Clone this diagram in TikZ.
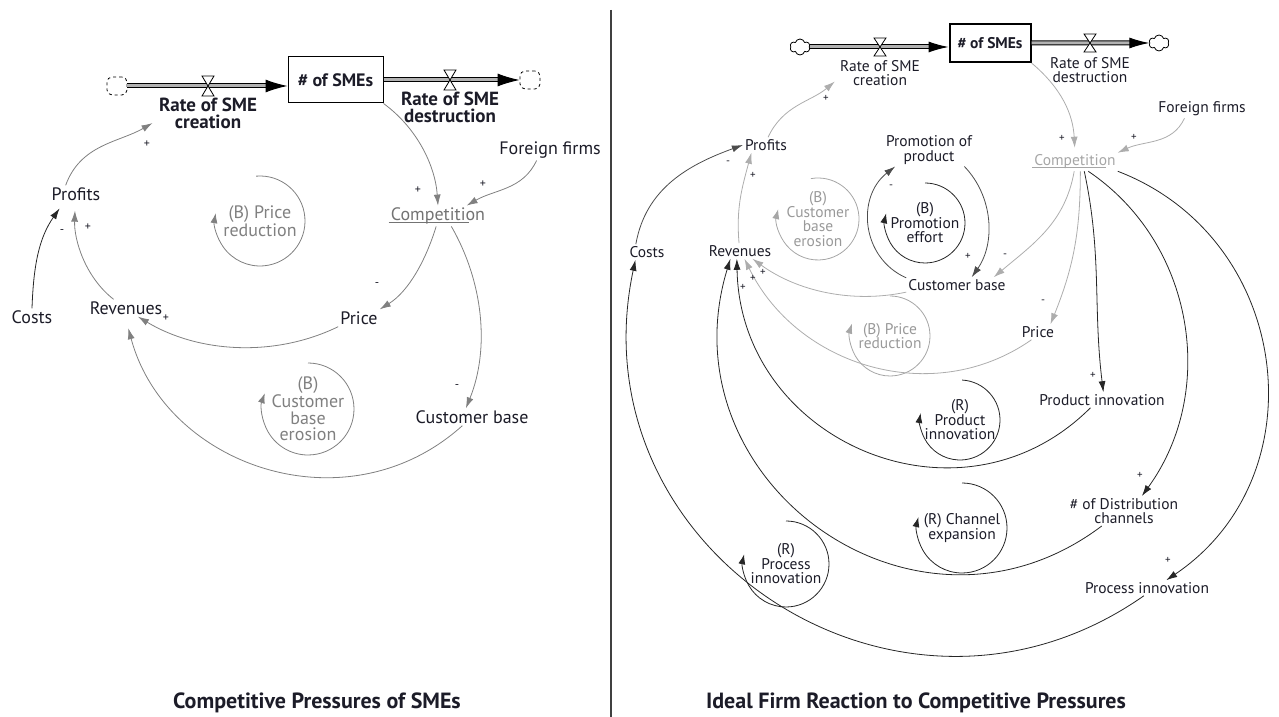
\documentclass[tikz,border=0pt]{standalone}
\usepackage{fontspec}
\setmainfont{PT Sans}
\usetikzlibrary{arrows.meta, positioning, calc, shapes.symbols}
\definecolor{ink}{RGB}{28,28,40}

\begin{document}
\begin{tikzpicture}[
    x=1pt, y=1pt,
    >=Latex,
    lvar/.style={inner sep=2pt, align=center, text=ink, font=\fontsize{18}{15}\selectfont},
    rvar/.style={inner sep=2pt, align=center, text=ink, font=\fontsize{15.5}{14.5}\selectfont},
    lrate/.style={lvar, font=\bfseries\fontsize{19}{16.5}\selectfont},
    stock/.style={draw, align=center, inner sep=2pt, text=ink},
    pipe/.style={double=black!30, double distance=3pt, line width=1pt},
    valve/.style={draw, line width=0.8pt, fill=white},
    dcloud/.style={draw, dashed, rounded corners=5pt, minimum width=20pt, minimum height=18pt, line width=0.8pt},
    scloud/.style={draw, cloud, cloud puffs=6, minimum width=20pt, minimum height=16pt, line width=0.8pt, inner sep=0pt},
    link/.style={-{Latex[length=11pt, width=7pt]}, line width=0.8pt, black!50},
    lightlink/.style={link, black!32},
    darklink/.style={link, black!85},
    lloop/.style={inner sep=0pt, align=center, text=black!50, font=\fontsize{18}{16.5}\selectfont},
    rloop/.style={inner sep=0pt, align=center, text=black!40, font=\fontsize{15.5}{14.5}\selectfont},
    loopline/.style={-{Latex[length=10pt, width=7pt]}, line width=0.8pt, black!50},
    sign/.style={inner sep=0pt, text=ink, font=\fontsize{12}{12}\selectfont},
    title/.style={font=\bfseries\fontsize{22}{22}\selectfont, text=ink}
]
\useasboundingbox (0,0) rectangle (1279,717);

% ---------------- Left: competitive pressures ----------------
% Stock and flows
\node[stock, line width=1pt, minimum width=95pt, minimum height=46pt, font=\bfseries\fontsize{18}{18}\selectfont] (lsme) at (335.5,637) {\# of SMEs};
\node[dcloud] (lcl) at (117,631) {};
\node[dcloud] (lcr) at (530,637) {};
\draw[pipe, -{Latex[length=22pt, width=13pt]}] (lcl.east) -- (lcl.east -| lsme.west);
\draw[pipe, -{Latex[length=22pt, width=13pt]}] (lsme.east) -- (lcr.west);
\coordinate (lv1) at (208,631);
\coordinate (lv2) at (450,637);
\draw[valve] (lv1) ++(-6,10) -- ++(12,0) -- ++(-12,-20) -- ++(12,0) -- cycle;
\draw[valve] (lv2) ++(-6,10) -- ++(12,0) -- ++(-12,-20) -- ++(12,0) -- cycle;
\node[lrate, below=10pt of lv1] (lcre) {Rate of SME\\creation};
\node[lrate, below=10pt of lv2] (ldes) {Rate of SME\\destruction};

% Variables
\node[lvar] (lfor) at (550,567) {Foreign firms};
\node[lvar, text=black!55] (lcomp) at (438,501) {Competition};
\draw[black!55, line width=1pt] ([yshift=-2pt]lcomp.base west) -- ([yshift=-2pt, xshift=-18pt]lcomp.base east);
\node[lvar] (lprof) at (76,523) {Profits};
\node[lvar] (lcost) at (32,400) {Costs};
\node[lvar] (lrev) at (126,409) {Revenues};
\node[lvar] (lprice) at (359,399) {Price};
\node[lvar] (lcb) at (472,300) {Customer base};

% Loops
\node[lloop] (lprc) at (260,496) {(B) Price\\reduction};
\draw[loopline] ($(lprc)+(95:45pt)$) arc[start angle=95, end angle=-190, radius=45pt];
\node[lloop] (lcbe) at (308,308) {(B)\\Customer\\base\\erosion};
\draw[loopline] ($(lcbe)+(90:46pt)$) arc[start angle=90, end angle=-200, radius=46pt];

% Links
\draw[link] (lsme.south east) to[out=-36, in=94, looseness=0.9] (lcomp.north);
\draw[link] (lfor.-142) to[out=-115, in=30] (lcomp.20);
\draw[link] (lcomp.-100) to[out=-107, in=32, looseness=0.88] (lprice.north east);
\draw[link] (lcomp.-38) to[out=-60, in=68, looseness=0.9] (lcb.125);
\draw[link] (lprice.south west) to[out=-154, in=-31, looseness=0.9] (lrev.-36);
\draw[link, shorten >=12pt] (lcb.-138) to[out=-138, in=-75, looseness=1.12] (lrev.-95);
\draw[link, shorten >=8pt] (lrev.145) to[out=142, in=-92, looseness=0.9] (lprof.-95);
\draw[darklink, shorten >=7pt] (lcost.north) to[out=88, in=-125] (lprof.-145);
\draw[link, shorten >=5pt] (lprof.140) to[out=70, in=-150] (lcre.-172);

\foreach \x/\y/\s [count=\i] in {418/527/+, 483/533/+, 377/432/-, 457/330/-, 166/399/+, 88/490/+, 62/485/-, 147/573/+}
  \node[sign] (lsg\i) at (\x,\y) {\s};

% Divider
\draw[black!75, line width=1.2pt] (611,707) -- (611,0);

% ---------------- Right: ideal firm reaction ----------------
% Stock and flows
\node[stock, line width=2pt, minimum width=81pt, minimum height=38pt, font=\bfseries\fontsize{15.5}{15.5}\selectfont] (rsme) at (990,674) {\# of SMEs};
\node[scloud] (rcl) at (800,670) {};
\node[scloud] (rcr) at (1159,674) {};
\draw[pipe, -{Latex[length=20pt, width=11pt]}] (rcl.east) -- (rcl.east -| rsme.west);
\draw[pipe, -{Latex[length=20pt, width=11pt]}] (rsme.east) -- (rcr.west);
\coordinate (rv1) at (880,670);
\coordinate (rv2) at (1090,674);
\draw[valve] (rv1) ++(-6,9) -- ++(12,0) -- ++(-12,-18) -- ++(12,0) -- cycle;
\draw[valve] (rv2) ++(-6,9) -- ++(12,0) -- ++(-12,-18) -- ++(12,0) -- cycle;
\node[rvar, below=11pt of rv1] (rcre) {Rate of SME\\creation};
\node[rvar, below=12pt of rv2] (rdes) {Rate of SME\\destruction};

% Variables
\node[rvar] (rfor) at (1202,608) {Foreign firms};
\node[rvar, text=black!35] (rcomp) at (1075,555) {Competition};
\draw[black!35, line width=1pt] ([yshift=-2pt]rcomp.base west) -- ([yshift=-2pt, xshift=-12pt]rcomp.base east);
\node[rvar] (rprof) at (766,572) {Profits};
\node[rvar] (rprom) at (929,567) {Promotion of\\product};
\node[rvar] (rcost) at (647,465) {Costs};
\node[rvar] (rrev) at (740,466) {Revenues};
\node[rvar] (rcb) at (957,432) {Customer base};
\node[rvar] (rprice) at (1038,385) {Price};
\node[rvar] (rpi) at (1102,317) {Product innovation};
\node[rvar] (rdc) at (1124,206) {\# of Distribution\\channels};
\node[rvar] (rproc) at (1147,129) {Process innovation};

% Loops
\node[rloop] (rcbe) at (818,498) {(B)\\Customer\\base\\erosion};
\draw[loopline, black!35] ($(rcbe)+(100:41pt)$) arc[start angle=100, end angle=-194, radius=41pt];
\node[rloop, text=ink] (rpe) at (925,494) {(B)\\Promotion\\effort};
\draw[loopline, black!85] ($(rpe)+(90:40pt)$) arc[start angle=90, end angle=-194, radius=40pt];
\node[rloop] (rprc) at (890,381) {(B) Price\\reduction};
\draw[loopline, black!35] ($(rprc)+(90:40pt)$) arc[start angle=90, end angle=-198, radius=40pt];
\node[rloop, text=ink] (rpil) at (960,297) {(R)\\Product\\innovation};
\draw[loopline, black!85] ($(rpil)+(87:40pt)$) arc[start angle=87, end angle=-190, radius=40pt];
\node[rloop, text=ink] (rce) at (962,189) {(R) Channel\\expansion};
\draw[loopline, black!85] ($(rce)+(90:45pt)$) arc[start angle=90, end angle=-194, radius=45pt];
\node[rloop, text=ink] (rprl) at (786,153) {(R)\\Process\\innovation};
\draw[loopline, black!85] ($(rprl)+(90:43pt)$) arc[start angle=90, end angle=-193, radius=43pt];

% Links
\draw[lightlink, shorten >=4pt] (rprof.75) to[out=65, in=-140] (rcre.-172);
\draw[lightlink, shorten >=5pt] (rsme.south east) to[out=-40, in=93] (rcomp.north);
\draw[lightlink] (rfor.-152) to[out=-115, in=25] (rcomp.north east);
\draw[darklink, black!70] (rcost.145) to[out=80, in=-160] (rprof.west);
\draw[lightlink] (rrev.97) to[out=95, in=-105] (rprof.-152);
\draw[darklink, black!70] (rcb.172) to[out=156, in=-142, looseness=1.13] (rprom.-154);
\draw[darklink, black!70] (rprom.-25) to[out=-46, in=55, looseness=0.96] (rcb.28);
\draw[lightlink] (rcomp.-95) to[out=-100, in=40] (rcb.12);
\draw[lightlink] (rcomp.-60) to[out=-90, in=68] (rprice.32);
\draw[darklink] (rcomp.-45) to[out=-78, in=97] (rpi.80);
\draw[darklink] (rcomp.-35) to[out=-34, in=54] (rdc.40);
\draw[darklink] (rcomp.south east) to[out=-21, in=34, looseness=1.16] (rproc.22);
\draw[lightlink] (rcb.-172) to[out=-168, in=-36, looseness=0.9] (rrev.-32);
\draw[lightlink] (rprice.-130) to[out=-145, in=-64, looseness=1.03] (rrev.-60);
\draw[darklink] (rpi.-146) to[out=-135, in=-89, looseness=1.22] (rrev.-112);
\draw[darklink] (rdc.-146) to[out=-143, in=-107, looseness=1.3] (rrev.-141);
\draw[darklink] (rproc.-112) to[out=-145, in=-102, looseness=1.25] (rcost.-146);

\foreach \x/\y/\s [count=\i] in {1062/579/+, 1134/580/+, 826/619/+, 728/554/-, 753/542/+, 891/530/-, 968/461/+, 1005/461/-, 1043/415/-, 1093/342/+, 1140/242/+, 1168/157/+, 743/430/+, 753/439/+, 763/445/+}
  \node[sign, font=\fontsize{11}{11}\selectfont] (rsg\i) at (\x,\y) {\s};

% Titles
\node[title] (ltitle) at (317,14) {Competitive Pressures of SMEs};
\node[title] (rtitle) at (916,14) {Ideal Firm Reaction to Competitive Pressures};

\end{tikzpicture}
\end{document}
